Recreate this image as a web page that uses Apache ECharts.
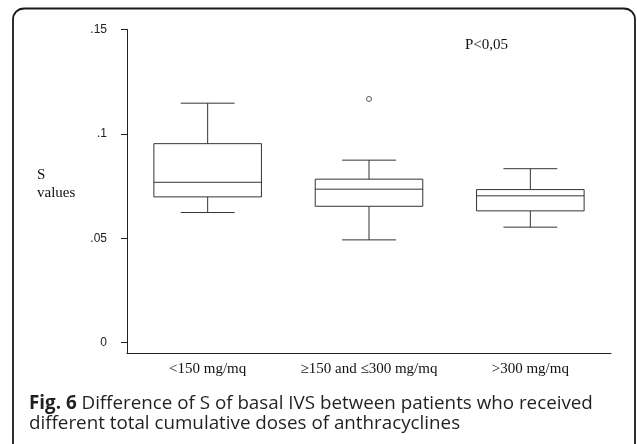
<!DOCTYPE html>
<html><head><meta charset="utf-8">
<script src="https://cdn.jsdelivr.net/npm/echarts@6/dist/echarts.min.js"></script>
<style>html,body{margin:0;padding:0;background:#fff}#c{width:637px;height:444px}</style>
</head><body><div id="c"></div>
<script>
var categories = ['<150 mg/mq', '\u2265150 and \u2264300 mg/mq', '>300 mg/mq'];
// [min, Q1, median, Q3, max]
var boxStats = [
  [0.0623, 0.0698, 0.0768, 0.0953, 0.1147],
  [0.0492, 0.0653, 0.0735, 0.0783, 0.0874],
  [0.0553, 0.0631, 0.0703, 0.0733, 0.0833]
];
var outliers = [[1, 0.1167]];
var yTicks = [0, 0.05, 0.1, 0.15];
var yTickLabels = ['0', '.05', '.1', '.15'];

var chart = echarts.init(document.getElementById('c'));
var lineColor = '#333';
var serif = '"Liberation Serif", "DejaVu Serif", serif';

chart.setOption({
  animation: false,
  grid: { left: 127, right: 26, top: 29.5, bottom: 91 },
  xAxis: {
    type: 'category', data: categories, boundaryGap: true,
    axisLine: { onZero: false, lineStyle: { color: '#222', width: 1 } },
    axisTick: { show: false },
    axisLabel: { color: '#111', fontFamily: serif, fontSize: 15, margin: 9, interval: 0 }
  },
  yAxis: {
    type: 'value', min: -0.005, max: 0.15,
    splitLine: { show: false },
    axisLine: { show: true, lineStyle: { color: '#222', width: 1 } },
    axisTick: { show: true, length: 6, customValues: yTicks, lineStyle: { color: '#222' } },
    axisLabel: {
      customValues: yTicks, margin: 20, color: '#222', fontSize: 12,
      fontFamily: '"Liberation Sans", Arial, sans-serif',
      formatter: function (v) {
        for (var i = 0; i < yTicks.length; i++) if (Math.abs(yTicks[i] - v) < 1e-9) return yTickLabels[i];
        return '';
      }
    }
  },
  title: [
    { text: 'S\nvalues', left: 37, top: 165.5, padding: 0, textStyle: { fontFamily: serif, fontSize: 15, fontWeight: 'normal', color: '#111', lineHeight: 18.5 } },
    { text: 'P<0,05', left: 465, top: 38, padding: 0, textStyle: { fontFamily: serif, fontSize: 15, fontWeight: 'normal', color: '#111' } }
  ],
  graphic: [
    { type: 'rect', shape: { x: 13, y: 8.5, width: 622, height: 520, r: 11 }, style: { fill: 'none', stroke: '#1a1a1a', lineWidth: 1.8 } },
    { type: 'text', left: 29, top: 394, style: {
      text: '{b|Fig. 6} Difference of S of basal IVS between patients who received\ndifferent total cumulative doses of anthracyclines',
      font: '18.8px "Open Sans"', fill: '#231f20', lineHeight: 19.5,
      rich: { b: { fontWeight: 'bold', fontFamily: 'Open Sans', fontSize: 18.8, fill: '#231f20' } }
    } }
  ],
  series: [
    {
      type: 'custom',
      data: boxStats.map(function (d, i) { return [i].concat(d); }),
      encode: { x: 0, y: [1, 2, 3, 4, 5] },
      renderItem: function (params, api) {
        var i = api.value(0);
        var bw = api.size([1, 0])[0] * 2 / 3;
        var cw = bw / 2;
        var pMin = api.coord([i, api.value(1)]);
        var pQ1 = api.coord([i, api.value(2)]);
        var pMed = api.coord([i, api.value(3)]);
        var pQ3 = api.coord([i, api.value(4)]);
        var pMax = api.coord([i, api.value(5)]);
        var cx = pMin[0];
        var st = { stroke: lineColor, lineWidth: 1, fill: 'none' };
        function ln(x1, y1, x2, y2) { return { type: 'line', shape: { x1: x1, y1: y1, x2: x2, y2: y2 }, style: st }; }
        return { type: 'group', children: [
          { type: 'rect', shape: { x: cx - bw / 2, y: pQ3[1], width: bw, height: pQ1[1] - pQ3[1] }, style: st },
          ln(cx - bw / 2, pMed[1], cx + bw / 2, pMed[1]),
          ln(cx, pQ3[1], cx, pMax[1]),
          ln(cx, pQ1[1], cx, pMin[1]),
          ln(cx - cw / 2, pMax[1], cx + cw / 2, pMax[1]),
          ln(cx - cw / 2, pMin[1], cx + cw / 2, pMin[1])
        ] };
      }
    },
    {
      type: 'scatter', data: outliers, symbol: 'circle', symbolSize: 5,
      itemStyle: { color: '#fff', borderColor: lineColor, borderWidth: 1 }
    }
  ]
});
</script></body></html>
